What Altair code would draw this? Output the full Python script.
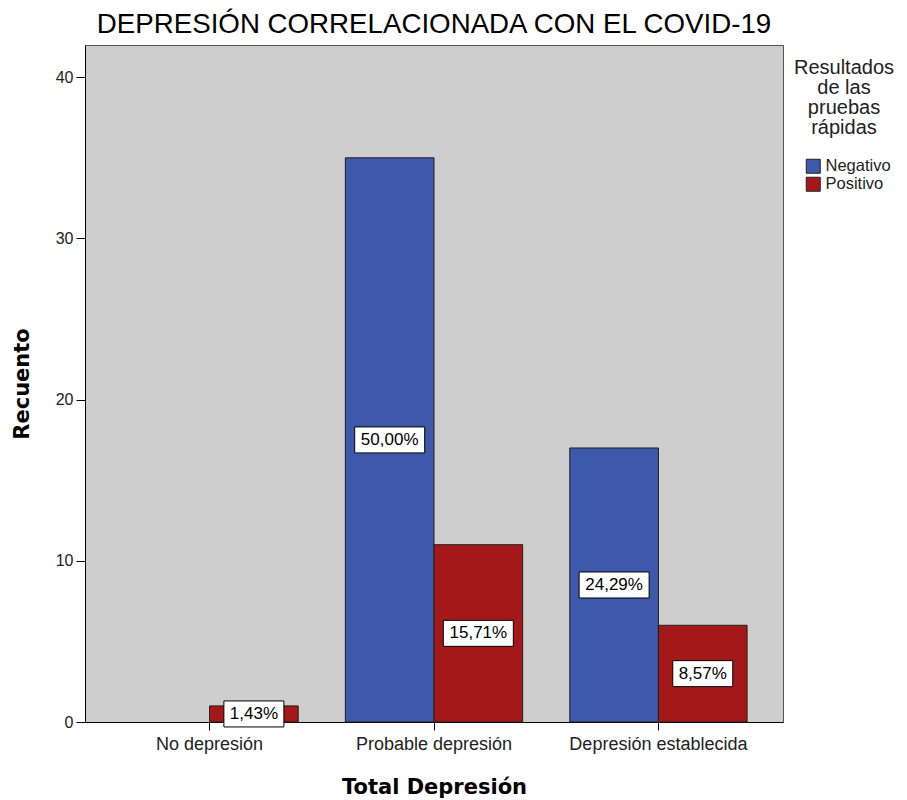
import altair as alt
import pandas as pd

categories = ["No depresión", "Probable depresión", "Depresión establecida"]
results = ["Negativo", "Positivo"]
negativo = [0, 35, 17]
positivo = [1, 11, 6]
negativo_labels = ["", "50,00%", "24,29%"]
positivo_labels = ["1,43%", "15,71%", "8,57%"]
y_ticks = [0, 10, 20, 30, 40]

BLUE = "#3e58aa"
RED = "#a5181a"

rows = []
for i, c in enumerate(categories):
    rows.append({"cat": c, "res": "Negativo", "n": negativo[i], "lab": negativo_labels[i]})
    rows.append({"cat": c, "res": "Positivo", "n": positivo[i], "lab": positivo_labels[i]})
df = pd.DataFrame(rows)
df["mid"] = df["n"] / 2

lab_df = df[df["lab"] != ""].copy()
box_h = 26
lab_df["w"] = lab_df["lab"].str.len() * 10 + 10
lab_df["size"] = lab_df["w"] ** 2
lab_df["shape"] = lab_df["w"].apply(
    lambda w: f"M-1,{-box_h / w:.4f}L1,{-box_h / w:.4f}L1,{box_h / w:.4f}L-1,{box_h / w:.4f}Z"
)

x_enc = alt.X(
    "cat:N",
    sort=categories,
    scale=alt.Scale(domain=categories, paddingInner=0.21, paddingOuter=0.16),
    axis=alt.Axis(
        title="Total Depresión",
        labelAngle=0,
        labelFont="Liberation Sans",
        labelFontSize=18,
        labelColor="#222222",
        labelPadding=5,
        tickSize=8,
        tickColor="black",
        domainColor="black",
        titleFont="DejaVu Sans",
        titleFontSize=21,
        titleFontWeight="bold",
        titleColor="black",
        titleY=71,
        titleBaseline="alphabetic",
        grid=False,
    ),
)
xoff = alt.XOffset("res:N", sort=results, scale=alt.Scale(domain=results, paddingInner=0, paddingOuter=0))
y_axis = alt.Axis(
    title="Recuento",
    values=y_ticks,
    labelFont="Liberation Sans",
    labelFontSize=16,
    labelColor="#222222",
    labelPadding=3,
    tickSize=9,
    tickColor="black",
    domainColor="black",
    titleFont="DejaVu Sans",
    titleFontSize=21,
    titleFontWeight="bold",
    titleColor="black",
    titleX=-63,
    titleY=338.5,
    titleAngle=270,
    titleBaseline="middle",
    grid=False,
)
y_scale = alt.Scale(domain=[0, 42], nice=False, zero=True)

bars = alt.Chart(df).transform_filter("datum.n > 0").mark_bar(stroke="#1f1f1f", strokeWidth=1).encode(
    x=x_enc,
    xOffset=xoff,
    y=alt.Y("n:Q", scale=y_scale, axis=y_axis),
    color=alt.Color(
        "res:N",
        scale=alt.Scale(domain=results, range=[BLUE, RED]),
        legend=alt.Legend(
            title=["Resultados", "de las", "pruebas", "rápidas"],
            orient="none",
            legendX=709,
            legendY=13,
            padding=0,
            titleFont="Liberation Sans",
            titleFontSize=20,
            titleFontWeight="normal",
            titleColor="#222222",
            titleLineHeight=20,
            titleAlign="center",
            titleAnchor="middle",
            titlePadding=20,
            symbolType="square",
            symbolSize=196,
            symbolStrokeColor="#222222",
            symbolStrokeWidth=1,
            symbolOffset=8,
            labelFont="Liberation Sans",
            labelFontSize=16.5,
            labelColor="#222222",
            labelOffset=4,
            rowPadding=-1,
        ),
    ),
)

boxes = alt.Chart(lab_df).mark_point(
    filled=True, fill="white", stroke="black", strokeWidth=1, opacity=1
).encode(
    x=alt.X("cat:N", sort=categories),
    xOffset=xoff,
    y=alt.Y("mid:Q", scale=y_scale, axis=y_axis),
    shape=alt.Shape("shape:N", scale=None, legend=None),
    size=alt.Size("size:Q", scale=None, legend=None),
)

texts = alt.Chart(lab_df).mark_text(
    font="Liberation Sans", fontSize=17, color="black", align="center", baseline="middle"
).encode(
    x=alt.X("cat:N", sort=categories),
    xOffset=xoff,
    y=alt.Y("mid:Q", scale=y_scale, axis=y_axis),
    text="lab:N",
)

chart = (
    alt.layer(bars, boxes, texts)
    .properties(
        width=698,
        height=677,
        autosize=alt.AutoSizeParams(type="none"),
        padding={"left": 77, "top": 37, "right": 116, "bottom": 78},
        title=alt.TitleParams(
            "DEPRESIÓN CORRELACIONADA CON EL COVID-19",
            font="Liberation Sans",
            fontSize=27.7,
            fontWeight="normal",
            color="black",
            anchor="middle",
            offset=6,
        ),
    )
    .configure(background="white")
    .configure_view(fill="#cecece", stroke="#555555", strokeWidth=1)
)

chart.save("out.html", embed_options={"renderer": "svg", "actions": False})
